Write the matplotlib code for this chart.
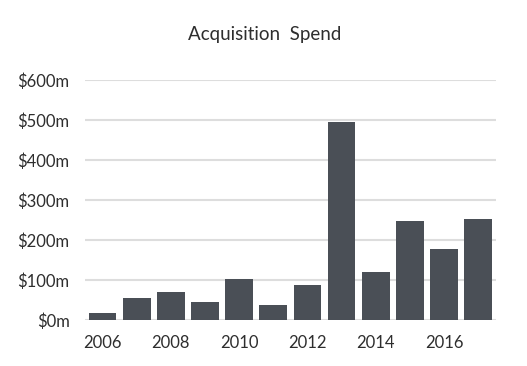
import matplotlib
matplotlib.use("Agg")
import matplotlib.pyplot as plt

years = [2006, 2007, 2008, 2009, 2010, 2011, 2012, 2013, 2014, 2015, 2016, 2017]
spend = [17, 54, 71, 44, 102, 38, 87, 495, 119, 247, 177, 252]
y_ticks = [0, 100, 200, 300, 400, 500, 600]
y_labels = ["$0m", "$100m", "$200m", "$300m", "$400m", "$500m", "$600m"]

plt.rcParams["font.family"] = ["Lato", "DejaVu Sans"]
text_color = "#2e2e2e"

fig = plt.figure(figsize=(5.27, 3.66), dpi=100)
ax = fig.add_axes([0.161, 0.1257, 0.78, 0.6557])

pos = list(range(len(years)))
ax.bar(pos, spend, width=0.81, color="#4a4f56", zorder=3)

ax.set_ylim(0, 600)
ax.set_xlim(-0.52, len(years) - 0.48)
ax.set_yticks(y_ticks)
ax.set_yticklabels(y_labels, fontsize=12, color=text_color)
ax.set_xticks(pos[::2])
ax.set_xticklabels([str(y) for y in years[::2]], fontsize=12, color=text_color)
ax.tick_params(length=0)
ax.tick_params(axis="x", pad=11)
ax.tick_params(axis="y", pad=11)

ax.grid(axis="y", color="#dddddd", linewidth=1.5, zorder=0)
for s in ax.spines.values():
    s.set_visible(False)

fig.text(0.503, 0.905, "Acquisition  Spend", ha="center", va="center",
         fontsize=13.5, color=text_color)

fig.savefig("out.png", dpi=100)
